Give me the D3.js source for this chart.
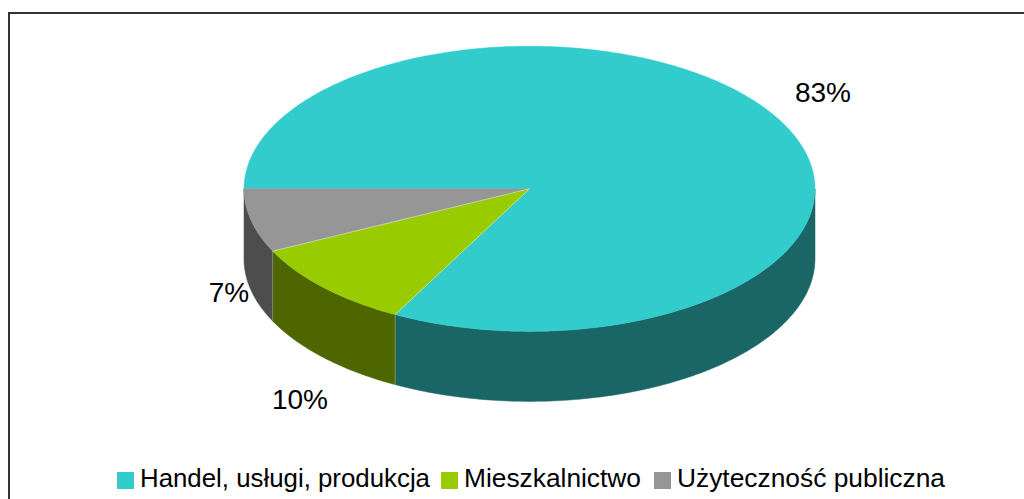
<!DOCTYPE html>
<html><head><meta charset="utf-8">
<script src="https://cdn.jsdelivr.net/npm/d3@7"></script>
<style>html,body{margin:0;padding:0;background:#fff}svg{display:block}text{font-family:"Liberation Sans",Arial,sans-serif;fill:#000}</style>
</head><body><svg id="c" width="1024" height="499"></svg>
<script>
const categories = ["Handel, usługi, produkcja", "Mieszkalnictwo", "Użyteczność publiczna"];
const values = [82.8, 10, 7.2];
const labels = ["83%", "10%", "7%"];
const topColors = ["#33cccc", "#99cc00", "#969696"];
const wallColors = ["#1a6666", "#4d6600", "#4d4d4d"];

const svg = d3.select("#c");
svg.append("rect").attr("x", 9).attr("y", 13).attr("width", 1030).attr("height", 520)
  .attr("fill", "#fff").attr("stroke", "#333").attr("stroke-width", 2);

const cx = 529.5, cy = 188.8, rx = 285.5, ry = 142.6, depth = 70;
const sx = d3.scaleLinear().domain([-1, 1]).range([cx - rx, cx + rx]);
const sy = d3.scaleLinear().domain([-1, 1]).range([cy - ry, cy + ry]);
const line = d3.line().x(d => sx(d[0])).y(d => sy(d[1]) + (d[2] || 0));
const pt = (a, h) => [Math.sin(a), -Math.cos(a), h || 0];
const samples = (a0, a1) => { const n = Math.max(2, Math.ceil(Math.abs(a1 - a0) * 60));
  return d3.range(n + 1).map(i => a0 + (a1 - a0) * i / n); };

const pie = d3.pie().sort(null).startAngle(1.5 * Math.PI).endAngle(3.5 * Math.PI);
const arcs = pie(values);

// side wall: only the part of each slice facing the viewer
const wallG = svg.append("g");
arcs.forEach((d, i) => {
  [[Math.PI / 2, 1.5 * Math.PI], [2.5 * Math.PI, 3.5 * Math.PI]].forEach(([lo, hi]) => {
    const a0 = Math.max(d.startAngle, lo), a1 = Math.min(d.endAngle, hi);
    if (a1 <= a0) return;
    const front = samples(a0, a1).map(a => pt(a));
    const back = samples(a1, a0).map(a => pt(a, depth));
    wallG.append("path").attr("d", line(front.concat(back)) + "Z")
      .attr("fill", wallColors[i]).attr("stroke", wallColors[i]).attr("stroke-width", 0.5);
  });
});
// thin light seams between wall pieces
arcs.slice(1).forEach(d => {
  wallG.append("path").attr("d", line([pt(d.startAngle), pt(d.startAngle, depth)]))
    .attr("stroke", "#8a9a70").attr("stroke-width", 0.8).attr("fill", "none");
});

// top face
const topG = svg.append("g");
arcs.forEach((d, i) => {
  const p = [[0, 0, 0]].concat(samples(d.startAngle, d.endAngle).map(a => pt(a)));
  topG.append("path").attr("d", line(p) + "Z").attr("fill", topColors[i])
    .attr("stroke", topColors[i]).attr("stroke-width", 0.4);
});
// light seams on the top face
arcs.slice(1).forEach(d => {
  topG.append("path").attr("d", line([[0, 0, 0], pt(d.startAngle)]))
    .attr("stroke", "#d8e6b0").attr("stroke-width", 0.7).attr("fill", "none");
});

// data labels
const labelPos = [[823, 102], [300, 409], [229, 302]];
labels.forEach((t, i) => {
  svg.append("text").attr("x", labelPos[i][0]).attr("y", labelPos[i][1])
    .attr("text-anchor", "middle").attr("font-size", 28).text(t);
});

// legend
const legX = [117, 441, 654];
const legW = [290, 177, 268];
const legendG = svg.append("g");
categories.forEach((c, i) => {
  legendG.append("rect").attr("x", legX[i]).attr("y", 472).attr("width", 17).attr("height", 17).attr("fill", topColors[i]);
  legendG.append("text").attr("x", legX[i] + 23).attr("y", 487).attr("font-size", 26)
    .attr("textLength", legW[i]).attr("lengthAdjust", "spacingAndGlyphs").text(c);
});
</script></body></html>
